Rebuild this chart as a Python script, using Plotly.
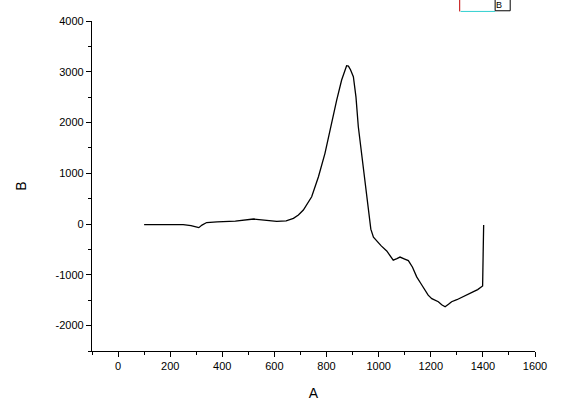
import plotly.graph_objects as go

# Data
a_vals = [100, 150, 200, 250, 280, 300, 310, 322, 340, 380, 450, 520, 560, 609, 645, 673,
          692, 711, 743, 769, 794, 814, 839, 858, 870, 877, 884, 892, 903, 913, 922,
          935, 948, 960, 970, 980, 995, 1010, 1031, 1045,
          1056, 1070, 1082, 1100, 1114, 1130, 1146, 1162, 1178, 1190, 1204, 1215, 1229,
          1242, 1255, 1268, 1280, 1300, 1325, 1345, 1364, 1380, 1395, 1399, 1401, 1403]
b_vals = [-10, -8, -6, -10, -30, -55, -70, -20, 30, 45, 60, 100, 80, 55, 65, 112,
          180, 276, 538, 932, 1393, 1880, 2443, 2837, 3030, 3120, 3110, 3040, 2902, 2500, 1917,
          1350, 810, 300, -100, -260, -350, -430, -530, -630,
          -710, -680, -650, -690, -720, -850, -1040, -1170, -1300, -1400, -1470, -1490, -1530,
          -1590, -1630, -1580, -1530, -1490, -1430, -1390, -1330, -1290, -1240, -1220, -600, -20]

fig = go.Figure()
fig.add_trace(go.Scatter(x=a_vals, y=b_vals, mode="lines",
                         line=dict(color="black", width=1.3),
                         showlegend=False))

font = dict(family="Liberation Sans, Arial, sans-serif", color="black")

fig.update_layout(
    width=570, height=404,
    margin=dict(l=92, r=35, t=21, b=53, autoexpand=False),
    paper_bgcolor="white", plot_bgcolor="white",
    font=dict(size=11, **font),
    xaxis=dict(range=[-100, 1600], tickmode="array", automargin=False,
               tickvals=[0, 200, 400, 600, 800, 1000, 1200, 1400, 1600],
               ticktext=["0", "200", "400", "600", "800", "1000", "1200", "1400", "1600"],
               ticks="outside", ticklen=5, tickwidth=1, tickcolor="black",
               minor=dict(tickvals=[-100, 100, 300, 500, 700, 900, 1100, 1300, 1500],
                          ticks="outside", ticklen=3, tickcolor="black"),
               showline=True, linecolor="black", linewidth=1.3, showgrid=False,
               zeroline=False,
               title=dict(text="A", font=dict(size=14, **font), standoff=16)),
    yaxis=dict(range=[-2500, 4000], tickmode="array", automargin=False,
               tickvals=[-2000, -1000, 0, 1000, 2000, 3000, 4000],
               ticktext=["-2000", "-1000", "0", "1000", "2000", "3000", "4000"],
               ticks="outside", ticklen=5, tickwidth=1, tickcolor="black",
               minor=dict(tickvals=[-2500, -1500, -500, 500, 1500, 2500, 3500],
                          ticks="outside", ticklen=3, tickcolor="black"),
               showline=True, linecolor="black", linewidth=1.3, showgrid=False,
               zeroline=False,
               title=dict(text="B", font=dict(size=14, **font), standoff=25)),
)

# partial legend box at the top edge (py = 351 - y*330)
fig.add_shape(type="line", xref="paper", yref="paper", x0=0.830, x1=0.830, y0=1.029, y1=1.07,
              line=dict(color="#c00000", width=1))
fig.add_shape(type="line", xref="paper", yref="paper", x0=0.832, x1=0.910, y0=1.029, y1=1.029,
              line=dict(color="#30d0d0", width=1))
fig.add_shape(type="rect", xref="paper", yref="paper", x0=0.910, x1=0.944, y0=1.031, y1=1.07,
              line=dict(color="black", width=1), fillcolor="white")
fig.add_annotation(xref="paper", yref="paper", x=0.927, y=1.047, text="B", showarrow=False,
                   yanchor="middle", borderpad=0,
                   font=dict(size=9, **font))

fig.write_html("out.html", config={"displayModeBar": False},
               post_script="document.body.style.margin='0px';")
